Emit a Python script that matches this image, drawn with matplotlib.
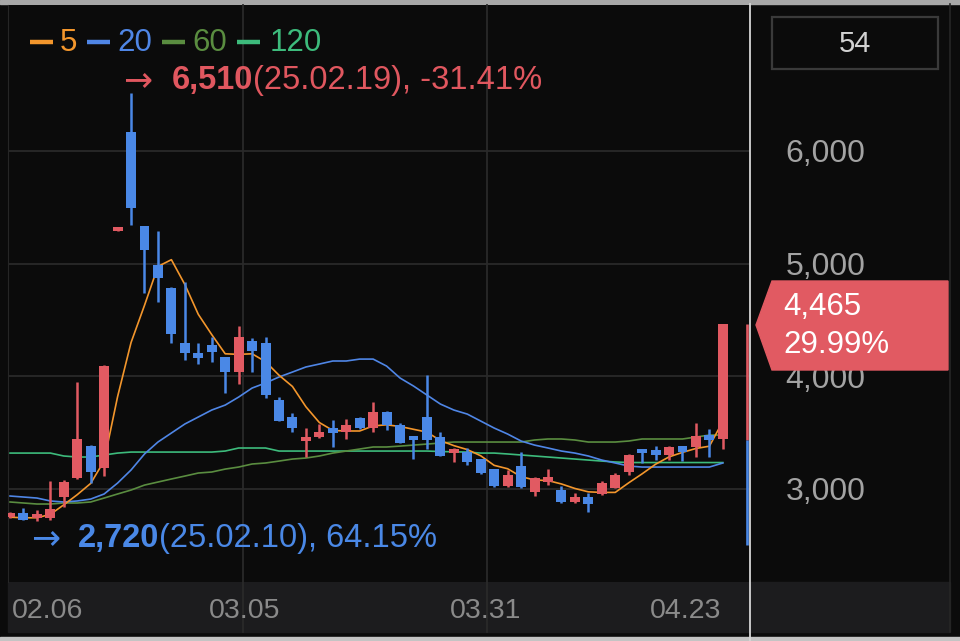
import numpy as np
import matplotlib
matplotlib.use('Agg')
import matplotlib.pyplot as plt
from matplotlib.patches import Polygon, Rectangle

plt.rcParams['font.family'] = ['Liberation Sans', 'DejaVu Sans']

# daily candles 25.02.06 .. 25.04.23 (54 sessions)
opens = [2750, 2790, 2740, 2740, 2930, 3100, 3380, 3190, 5290, 6170,
         5330, 4990, 4780, 4300, 4210, 4280, 4170, 4040, 4310, 4300,
         3790, 3640, 3425, 3460, 3540, 3505, 3630, 3540, 3685, 3570,
         3470, 3640, 3460, 3320, 3330, 3265, 3175, 3025, 3205, 2975,
         3060, 2990, 2885, 2930, 2955, 3010, 3150, 3345, 3345, 3300,
         3380, 3375, 3480, 3440]
highs = [2800, 2830, 2810, 3070, 3080, 3950, 3390, 4100, 5315, 6510,
         5330, 5290, 4790, 4840, 4300, 4350, 4175, 4450, 4340, 4350,
         3820, 3675, 3540, 3580, 3610, 3620, 3640, 3770, 3690, 3590,
         3470, 4010, 3505, 3360, 3365, 3270, 3180, 3170, 3330, 3110,
         3175, 3025, 2965, 2965, 3070, 3140, 3310, 3350, 3380, 3380,
         3385, 3585, 3530, 4465]
lows = [2740, 2725, 2720, 2725, 2840, 3090, 3050, 3120, 5290, 5340,
        4740, 4660, 4300, 4145, 4110, 4125, 3850, 3930, 4040, 3805,
        3600, 3505, 3285, 3455, 3370, 3445, 3535, 3505, 3525, 3405,
        3265, 3355, 3290, 3240, 3213, 3135, 3020, 3020, 3010, 2940,
        3035, 2875, 2880, 2795, 2950, 3005, 3125, 3230, 3255, 3255,
        3250, 3285, 3285, 3355]
closes = [2770, 2725, 2780, 2820, 3060, 3440, 3150, 4090, 5310, 5490,
          5120, 4870, 4375, 4205, 4165, 4215, 4040, 4350, 4225, 3835,
          3600, 3540, 3460, 3505, 3495, 3570, 3540, 3685, 3570, 3410,
          3435, 3435, 3295, 3355, 3240, 3140, 3025, 3125, 3015, 3100,
          3105, 2885, 2930, 2865, 3055, 3125, 3300, 3320, 3300, 3375,
          3330, 3470, 3435, 4465]

ma5 = [2750, 2745, 2745, 2775, 2860, 2950, 3050, 3250, 3820, 4300,
       4630, 4975, 5035, 4815, 4550, 4370, 4200, 4195, 4200, 4130,
       4010, 3910, 3730, 3590, 3520, 3515, 3515, 3560, 3570, 3555,
       3530, 3505, 3430, 3385, 3350, 3295, 3210, 3180, 3110, 3080,
       3075, 3045, 3005, 2975, 2970, 2970, 3055, 3135, 3220, 3285,
       3325, 3360, 3380, 3600]
ma20 = [2938, 2929, 2920, 2894, 2885, 2894, 2911, 2956, 3053, 3169,
        3311, 3417, 3497, 3577, 3639, 3701, 3745, 3816, 3896, 3941,
        3994, 4038, 4083, 4109, 4136, 4136, 4153, 4153, 4091, 3985,
        3914, 3834, 3754, 3701, 3665, 3603, 3541, 3488, 3426, 3390,
        3364, 3337, 3319, 3293, 3257, 3231, 3204, 3195, 3195, 3195,
        3195, 3195, 3195, 3231]
ma60 = [2885, 2876, 2867, 2867, 2876, 2876, 2885, 2920, 2956, 2991,
        3035, 3062, 3089, 3115, 3142, 3151, 3177, 3195, 3222, 3231,
        3248, 3266, 3275, 3293, 3319, 3337, 3355, 3373, 3373, 3381,
        3390, 3399, 3408, 3417, 3417, 3417, 3417, 3417, 3417, 3435,
        3444, 3444, 3435, 3417, 3417, 3417, 3426, 3444, 3444, 3444,
        3444, 3461, 3479, 3479]
ma120 = [3319, 3319, 3319, 3319, 3293, 3284, 3284, 3302, 3319, 3328,
         3328, 3328, 3328, 3328, 3328, 3328, 3337, 3364, 3364, 3364,
         3337, 3337, 3337, 3337, 3337, 3337, 3337, 3337, 3337, 3337,
         3337, 3337, 3333, 3330, 3328, 3319, 3319, 3311, 3302, 3293,
         3284, 3275, 3266, 3257, 3248, 3240, 3235, 3235, 3235, 3235,
         3235, 3235, 3235, 3235]

ma_names = ['5', '20', '60', '120']
ma_colors = ['#f3962c', '#4f86e6', '#5a8d40', '#3dbb7c']

date_labels = ['02.06', '03.05', '03.31', '04.23']
price_ticks = [3000, 4000, 5000, 6000]

last_price = '4,465'
last_change = '29.99%'
high_note = ('6,510', '(25.02.19), -31.41%')
low_note = ('2,720', '(25.02.10), 64.15%')
candle_count = '54'
tail_low = 2500   # bottom of the thin bar at the right edge

up = '#e15a62'
down = '#4a88e6'
bg = '#0b0b0b'
grid = '#2a2a2a'

W, H = 960, 641
fig = plt.figure(figsize=(W / 100, H / 100), dpi=100, facecolor=bg)

# main price area in pixels
L, R, T, B = 8, 750, 5, 582
ax = fig.add_axes([L / W, 1 - B / H, (R - L) / W, (B - T) / H])
ax.set_facecolor(bg)
ax.set_xlim(-0.149, 55.02)
ax.set_ylim(2175, 7295)
for s in ['top', 'right', 'bottom']:
    ax.spines[s].set_visible(False)
ax.spines['left'].set_color('#262626')
ax.set_xticks([])
ax.set_yticks([])

for p in price_ticks:
    ax.axhline(p, color=grid, lw=1.3, zorder=0)
# vertical grid runs down through the date band
for gx in [17.32, 35.46]:
    ax.axvline(gx, ymin=-50 / (B - T), ymax=1, color=grid, lw=1.3, zorder=0, clip_on=False)

x = np.arange(len(closes))
for vals, c in zip([ma120, ma60, ma20, ma5], ma_colors[::-1]):
    ax.plot(x, vals, color=c, lw=1.2, zorder=2)

o = np.array(opens)
c = np.array(closes)
cols = [up if cc >= oo else down for oo, cc in zip(o, c)]
ax.vlines(x, lows, highs, colors=cols, lw=1.8, zorder=3)
ax.bar(x, np.maximum(np.abs(c - o), 35), 0.74, bottom=np.minimum(o, c), color=cols, zorder=3)

# thin bar at the crosshair
xe = 54.83
ax.vlines(xe, closes[-2], closes[-1], color=up, lw=1.9, zorder=3, clip_on=False)
ax.vlines(xe, tail_low, closes[-2], color=down, lw=1.9, zorder=3, clip_on=False)

# price labels in the right panel, sitting a little under their grid line
for p in price_ticks:
    ax.text(1.048, p - 30, f'{p:,}', transform=ax.get_yaxis_transform(), ha='left', va='center',
            color='#a3a3a3', fontsize=23, clip_on=False)

# date band and frame
fig.add_artist(Rectangle((L / W, 1 - 632 / H), 942 / W, 50 / H, transform=fig.transFigure,
                         color='#1c1c1e', zorder=-1))
fig.add_artist(Rectangle((0, 1 - 4 / H), 1, 4 / H, transform=fig.transFigure,
                         color='#a8a8a8', zorder=-1))
fig.add_artist(Rectangle((0, 0), 1, 4 / H, transform=fig.transFigure,
                         color='#c4c4c4', zorder=-1))

ov = fig.add_axes([0, 0, 1, 1], zorder=5)
ov.set_xlim(0, W)
ov.set_ylim(H, 0)
ov.axis('off')
ov.patch.set_alpha(0)

ov.plot([750, 750], [4, 641], color='#d6d6d6', lw=1.3)
ov.plot([950, 950], [4, 632], color='#262626', lw=1.2)

ov.text(12, 611, date_labels[0], ha='left', va='center', color='#8a8a8a', fontsize=20.5)
for lab, px in zip(date_labels[1:], [245, 486, 686]):
    ov.text(px, 611, lab, ha='center', va='center', color='#8a8a8a', fontsize=20.5)

# candle count box
ov.add_patch(Rectangle((772, 17), 166, 52, fill=False, ec='#3a3a3a', lw=1.6))
ov.text(855, 44, candle_count, ha='center', va='center', color='#d2d2d2', fontsize=21)

# last price tag
ov.add_patch(Polygon([(756, 325), (772, 281), (948, 281), (948, 370), (772, 370)],
                     closed=True, color=up, zorder=6))
ov.text(783, 307, last_price, ha='left', va='center', color='white', fontsize=22.5, zorder=7)
ov.text(783, 345, last_change, ha='left', va='center', color='white', fontsize=22.5, zorder=7)

# moving average legend
legend_x = [(30, 60), (87, 117), (162, 192), (237, 270)]
for (dx, tx), name, col in zip(legend_x, ma_names, ma_colors):
    ov.plot([dx, dx + 23], [42, 42], color=col, lw=3.2, solid_capstyle='butt')
    ov.text(tx, 43, name, ha='left', va='center', color=col, fontsize=22.5)

# high / low notes
hi_red = '#e0575f'
ov.text(123, 80, '→', ha='left', va='center', color=hi_red, fontsize=25, family='DejaVu Sans')
t1 = ov.text(172, 81, high_note[0], ha='left', va='center', color=hi_red, fontsize=23.5,
             fontweight='bold')
ov.annotate(high_note[1], xy=(1, 0), xycoords=t1, ha='left', va='bottom', color=hi_red,
            fontsize=23.5)

ov.text(31, 538, '→', ha='left', va='center', color=down, fontsize=25, family='DejaVu Sans')
t2 = ov.text(78, 539, low_note[0], ha='left', va='center', color=down, fontsize=23.5,
             fontweight='bold')
ov.annotate(low_note[1], xy=(1, 0), xycoords=t2, ha='left', va='bottom', color=down,
            fontsize=23.5)

fig.savefig('out.png', dpi=100, facecolor=bg)
